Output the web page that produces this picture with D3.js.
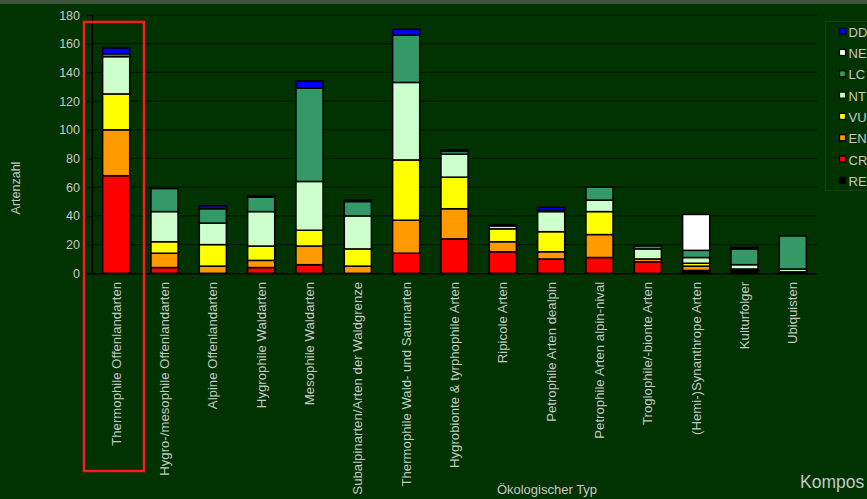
<!DOCTYPE html>
<html><head><meta charset="utf-8">
<script src="https://cdn.jsdelivr.net/npm/d3@7"></script>
<style>html,body{margin:0;padding:0;background:#003300;overflow:hidden}svg{display:block;font-family:"Liberation Sans",Arial,sans-serif}</style>
</head><body><svg id="c" width="867" height="499"></svg>
<script>
const categories = ["Thermophile Offenlandarten","Hygro-/mesophile Offenlandarten","Alpine Offenlandarten","Hygrophile Waldarten","Mesophile Waldarten","Subalpinarten/Arten der Waldgrenze","Thermophile Wald- und Saumarten","Hygrobionte & tyrphophile Arten","Ripicole Arten","Petrophile Arten dealpin","Petrophile Arten alpin-nival","Troglophile/-bionte Arten","(Hemi-)Synanthrope Arten","Kulturfolger","Ubiquisten"];
const seriesNames = ["RE","CR","EN","VU","NT","LC","NE","DD"];
const RE = [0,0,0,0,0,0,0,0,0,0,0,0,1,3,0];
const CR = [68,4,0,4,6,0,14,24,15,10,11,8,1,0,0];
const EN = [32,10,5,5,13,5,23,21,7,5,16,2,3,0,0];
const VU = [25,8,15,10,11,12,42,22,9,14,16,0,2,0,1];
const NT = [26,21,15,24,34,23,54,16,2,14,8,7,4,3,2];
const LC = [2,16,10,10,65,10,33,2,0,1,9,2,5,11,23];
const NE = [0,0,0,0,0,0,0,0,0,0,0,0,25,0,0];
const DD = [4,0,2,1,5,1,4,1,1,2,0,0,0,1,0];
const seriesColors = {RE:"#000000",CR:"#ff0000",EN:"#ff9900",VU:"#ffff00",NT:"#ccffcc",LC:"#339966",NE:"#ffffff",DD:"#0000ff"};
const yTicks = [0,20,40,60,80,100,120,140,160,180];
const yTitle = "Artenzahl", xTitle = "Ökologischer Typ", sideText = "Kompos";

const seriesData = {RE,CR,EN,VU,NT,LC,NE,DD};
const rows = categories.map((c,i)=>{const o={cat:c}; seriesNames.forEach(s=>o[s]=seriesData[s][i]); return o;});
const stack = d3.stack().keys(seriesNames)(rows);

const svg = d3.select("#c");
const m = {l:92, r:817, t:15, b:273.3};
svg.append("rect").attr("width",867).attr("height",499).attr("fill","#003300");
svg.append("rect").attr("width",867).attr("height",4).attr("fill","#3e523e");

const x = d3.scaleBand().domain(categories).range([m.l,m.r]).paddingInner(0.44).paddingOuter(0.22);
const xb = d3.scaleBand().domain(categories).range([m.l,m.r]);
const y = d3.scaleLinear().domain([0,180]).range([m.b,m.t]);

// gridlines
svg.append("g").selectAll("line").data(yTicks.filter(t=>t>0)).join("line")
  .attr("x1",m.l).attr("x2",m.r).attr("y1",d=>y(d)).attr("y2",d=>y(d))
  .attr("stroke","#001800").attr("stroke-width",1.2);

// y axis
const ya = svg.append("g").attr("transform",`translate(${m.l},0)`)
  .call(d3.axisLeft(y).tickValues(yTicks).tickSize(5).tickPadding(7));
ya.select(".domain").attr("stroke","#000").attr("stroke-width",1.2);
ya.selectAll(".tick line").attr("stroke","#000");
ya.selectAll("text").attr("fill","#c8c8c8").attr("font-size",12.5).attr("font-family","Liberation Sans, Arial, sans-serif");

// bars
svg.append("g").selectAll("g").data(stack).join("g")
  .attr("fill",d=>seriesColors[d.key])
  .selectAll("rect").data(d=>d.filter(p=>p[1]-p[0]>0)).join("rect")
  .attr("x",d=>x(d.data.cat)).attr("width",x.bandwidth())
  .attr("y",d=>y(d[1])).attr("height",d=>y(d[0])-y(d[1]))
  .attr("stroke","#000").attr("stroke-width",1.5);

// x axis
const xa = svg.append("g").attr("transform",`translate(0,${m.b})`)
  .call(d3.axisBottom(xb).tickSize(0).tickFormat(""));
xa.select(".domain").attr("stroke","#000").attr("stroke-width",1.5);
svg.append("g").selectAll("line").data(categories).join("line")
  .attr("x1",(d,i)=>m.l+xb.step()*(i+1)).attr("x2",(d,i)=>m.l+xb.step()*(i+1))
  .attr("y1",m.b).attr("y2",m.b+5).attr("stroke","#0a240a");
svg.append("g").selectAll("text").data(categories).join("text")
  .attr("transform",d=>`translate(${xb(d)+xb.bandwidth()/2+4.5},${m.b+8.5}) rotate(-90)`)
  .attr("text-anchor","end").attr("fill","#c8c8c8").attr("font-size",13.2).text(d=>d);

// titles
svg.append("text").attr("transform","translate(20,188) rotate(-90)").attr("text-anchor","middle")
  .attr("fill","#c8c8c8").attr("font-size",12.5).text(yTitle);
svg.append("text").attr("x",547).attr("y",494).attr("text-anchor","middle")
  .attr("fill","#c8c8c8").attr("font-size",13).text(xTitle);
svg.append("text").attr("x",800).attr("y",488).attr("fill","#c8c8c8").attr("font-size",17.5).text(sideText);

// legend
const lg = svg.append("g");
lg.append("rect").attr("x",825.5).attr("y",21.5).attr("width",60).attr("height",169)
  .attr("fill","none").attr("stroke","#173a17");
const legOrder = seriesNames.slice().reverse();
legOrder.forEach((s,i)=>{
  const cy = 31.7 + i*21.3;
  lg.append("rect").attr("x",839.5).attr("y",cy-3.5).attr("width",6).attr("height",6)
    .attr("fill",seriesColors[s]).attr("stroke","#000").attr("stroke-width",1.2);
  lg.append("text").attr("x",848.5).attr("y",cy+5).attr("fill","#c8c8c8").attr("font-size",13).text(s);
});

// red highlight
svg.append("rect").attr("x",84).attr("y",22).attr("width",60).attr("height",449)
  .attr("fill","none").attr("stroke","#ff1a1a").attr("stroke-width",2.5);
</script></body></html>
